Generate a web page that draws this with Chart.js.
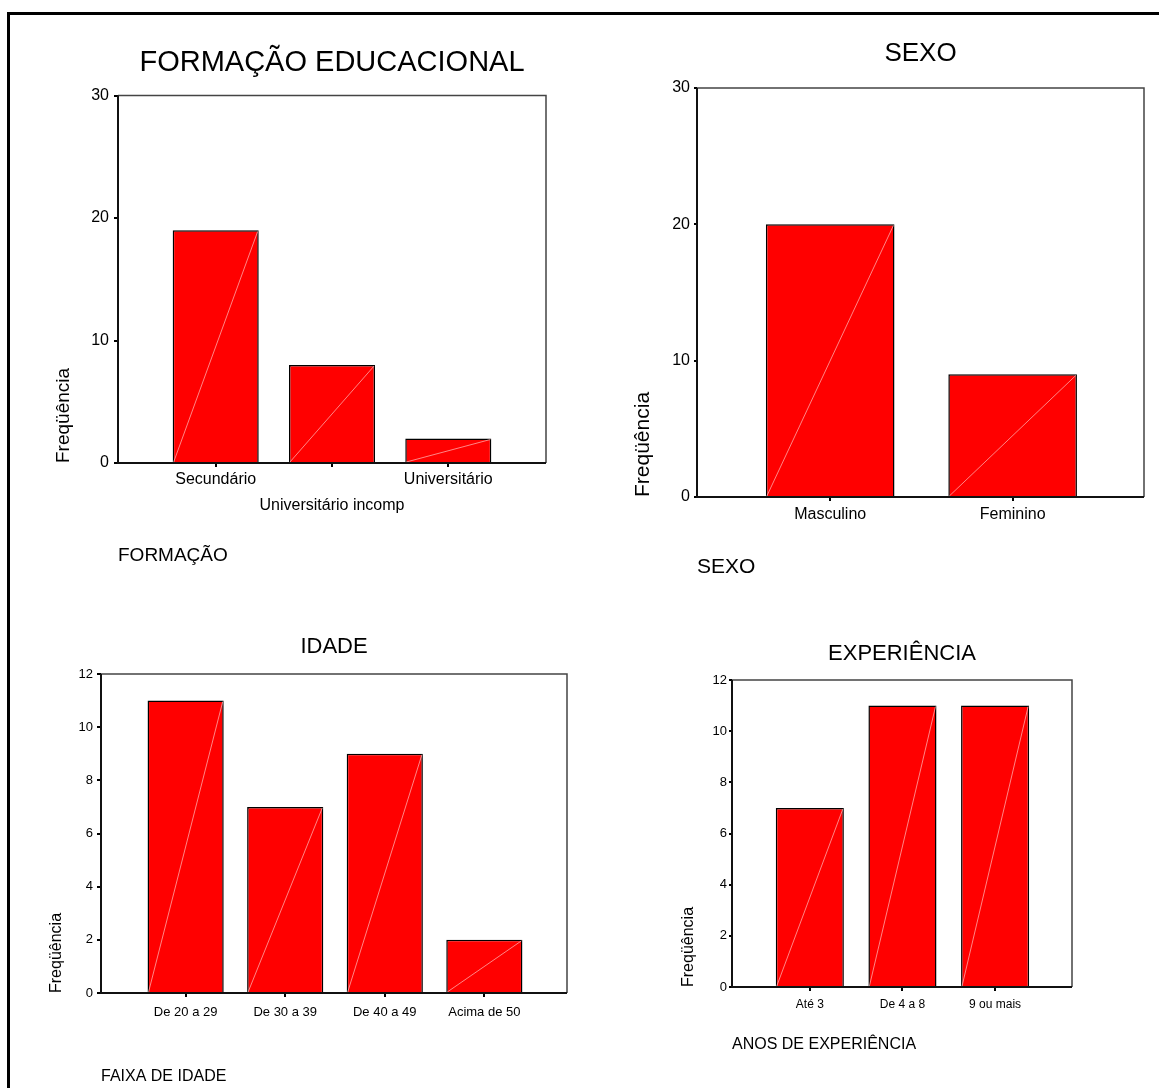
<!DOCTYPE html>
<html>
<head>
<meta charset="utf-8">
<title>Perfil dos entrevistados</title>
<script src="https://cdn.jsdelivr.net/npm/chart.js@4.4.1/dist/chart.umd.min.js"></script>
<style>
  body { margin: 0; background: #fff; }
  #page { position: relative; width: 1159px; height: 1088px; overflow: hidden; }
  #frame { position: absolute; left: 7px; top: 12px; width: 1160px; height: 1100px;
           border-top: 3px solid #000; border-left: 3px solid #000; }
  canvas { position: absolute; }
</style>
</head>
<body>
<div id="page">
  <div id="frame"></div>
  <canvas id="eduChart" width="580" height="600" style="left:0;top:0"></canvas>
  <canvas id="sexChart" width="579" height="600" style="left:580px;top:0"></canvas>
  <canvas id="ageChart" width="580" height="488" style="left:0;top:600px"></canvas>
  <canvas id="expChart" width="579" height="488" style="left:580px;top:600px"></canvas>
</div>
<script>
// Data
const eduCategories = ['Secundário', 'Universitário incomp', 'Universitário'];
const eduValues = [19, 8, 2];

const sexCategories = ['Masculino', 'Feminino'];
const sexValues = [20, 9];

const ageCategories = ['De 20 a 29', 'De 30 a 39', 'De 40 a 49', 'Acima de 50'];
const ageValues = [11, 7, 9, 2];

const expCategories = ['Até 3', 'De 4 a 8', '9 ou mais'];
const expValues = [7, 11, 11];

Chart.defaults.font.family = 'Arial, "Liberation Sans", sans-serif';
Chart.defaults.color = '#000';

// Draws the thin light diagonal in each bar and the plot frame (SPSS look)
const spssBox = {
    id: 'spssBox',
    afterDatasetsDraw(chart) {
        const ctx = chart.ctx;
        const a = chart.chartArea;
        ctx.save();
        chart.getDatasetMeta(0).data.forEach(bar => {
            const half = bar.width / 2;
            ctx.strokeStyle = 'rgba(255,185,185,0.9)';
            ctx.lineWidth = 0.8;
            ctx.beginPath();
            ctx.moveTo(bar.x - half + 1, bar.base);
            ctx.lineTo(bar.x + half - 1, bar.y + 1);
            ctx.stroke();
        });
        // top and right edges of the box
        ctx.strokeStyle = '#444';
        ctx.lineWidth = 1.5;
        ctx.beginPath();
        ctx.moveTo(a.left, a.top);
        ctx.lineTo(a.right, a.top);
        ctx.lineTo(a.right, a.bottom);
        ctx.stroke();
        // axes
        ctx.strokeStyle = '#111';
        ctx.lineWidth = 2;
        ctx.beginPath();
        ctx.moveTo(a.left, a.top);
        ctx.lineTo(a.left, a.bottom);
        ctx.lineTo(a.right, a.bottom);
        ctx.stroke();
        ctx.restore();
    }
};

function makeChart(id, categories, values, g) {
    return new Chart(document.getElementById(id), {
        type: 'bar',
        data: {
            datasets: [{
                data: values.map((v, i) => ({ x: i, y: v })),
                backgroundColor: '#ff0000',
                borderColor: '#000',
                borderWidth: 1.5,
                barPercentage: g.bar,
                categoryPercentage: 1
            }]
        },
        options: {
            responsive: false,
            animation: false,
            layout: { padding: { top: g.padTop, right: g.padRight, left: 0, bottom: 0 } },
            plugins: {
                legend: { display: false },
                tooltip: { enabled: false },
                title: {
                    display: true,
                    text: g.title,
                    fullSize: false,
                    color: '#000',
                    font: { size: g.titleSize, weight: 'normal' },
                    padding: { top: 0, bottom: g.titleGap }
                }
            },
            scales: {
                x: {
                    type: 'linear',
                    offset: false,
                    min: g.xMin,
                    max: g.xMax,
                    afterBuildTicks: s => { s.ticks = categories.map((c, i) => ({ value: i })); },
                    afterFit: s => { s.height = g.xHeight; },
                    grid: { offset: false, drawOnChartArea: false, drawTicks: true, tickLength: 4, color: '#000', lineWidth: 2 },
                    border: { display: false },
                    ticks: {
                        autoSkip: false,
                        maxRotation: 0,
                        padding: g.xTickPad,
                        color: '#000',
                        font: { size: g.xTickSize, lineHeight: g.xTickLine || 1.2 },
                        callback: v => g.xLabel ? g.xLabel(v) : categories[v]
                    },
                    title: {
                        display: true,
                        text: g.xTitle,
                        align: 'start',
                        color: '#000',
                        font: { size: g.xTitleSize },
                        padding: { top: 0, bottom: g.xTitleGap }
                    }
                },
                y: {
                    min: 0,
                    max: g.yMax,
                    afterFit: s => { s.width = g.yWidth; },
                    grid: { drawOnChartArea: false, tickLength: g.yTickLen, color: '#000', lineWidth: 2 },
                    border: { display: false },
                    ticks: { stepSize: g.yStep, padding: g.yTickPad, color: '#000', font: { size: g.yTickSize } },
                    title: {
                        display: true,
                        text: 'Freqüência',
                        align: 'start',
                        color: '#000',
                        font: { size: g.yTitleSize },
                        padding: { top: g.yTitleGap, bottom: 0 }
                    }
                }
            }
        },
        plugins: [spssBox]
    });
}

makeChart('eduChart', eduCategories, eduValues, {
    title: 'FORMAÇÃO EDUCACIONAL', titleSize: 29, titleGap: 15.6, padTop: 45.2, padRight: 34,
    xMin: -0.84, xMax: 2.84, bar: 0.74, xHeight: 137,
    xTickSize: 16, xTickLine: 1.625, xTickPad: 0,
    // the middle label sits on a second row
    xLabel: v => v === 1 ? ['', eduCategories[1]] : eduCategories[v],
    xTitle: 'FORMAÇÃO', xTitleSize: 19, xTitleGap: 32.8,
    yMax: 30, yStep: 10, yWidth: 118, yTickLen: 4, yTickPad: 5, yTickSize: 16,
    yTitleSize: 19, yTitleGap: 52.8
});

makeChart('sexChart', sexCategories, sexValues, {
    title: 'SEXO', titleSize: 26, titleGap: 18.4, padTop: 38.4, padRight: 15,
    xMin: -0.73, xMax: 1.72, bar: 0.705, xHeight: 103,
    xTickSize: 16, xTickPad: 4.4,
    xTitle: 'SEXO', xTitleSize: 21, xTitleGap: 20.4,
    yMax: 30, yStep: 10, yWidth: 117, yTickLen: 3, yTickPad: 4, yTickSize: 16,
    yTitleSize: 21, yTitleGap: 50.4
});

makeChart('ageChart', ageCategories, ageValues, {
    title: 'IDADE', titleSize: 22, titleGap: 13.8, padTop: 33.8, padRight: 13,
    xMin: -0.85, xMax: 3.83, bar: 0.765, xHeight: 95,
    xTickSize: 13, xTickPad: 7.2,
    xTitle: 'FAIXA DE IDADE', xTitleSize: 16, xTitleGap: 2,
    yMax: 12, yStep: 2, yWidth: 101, yTickLen: 4, yTickPad: 4, yTickSize: 13,
    yTitleSize: 16, yTitleGap: 47.4
});

makeChart('expChart', expCategories, expValues, {
    title: 'EXPERIÊNCIA', titleSize: 22, titleGap: 12.8, padTop: 40.8, padRight: 87,
    xMin: -0.84, xMax: 2.83, bar: 0.735, xHeight: 101,
    xTickSize: 12, xTickPad: 6.8,
    xTitle: 'ANOS DE EXPERIÊNCIA', xTitleSize: 16, xTitleGap: 34,
    yMax: 12, yStep: 2, yWidth: 152, yTickLen: 3, yTickPad: 2, yTickSize: 13,
    yTitleSize: 16, yTitleGap: 99.4
});
</script>
</body>
</html>
